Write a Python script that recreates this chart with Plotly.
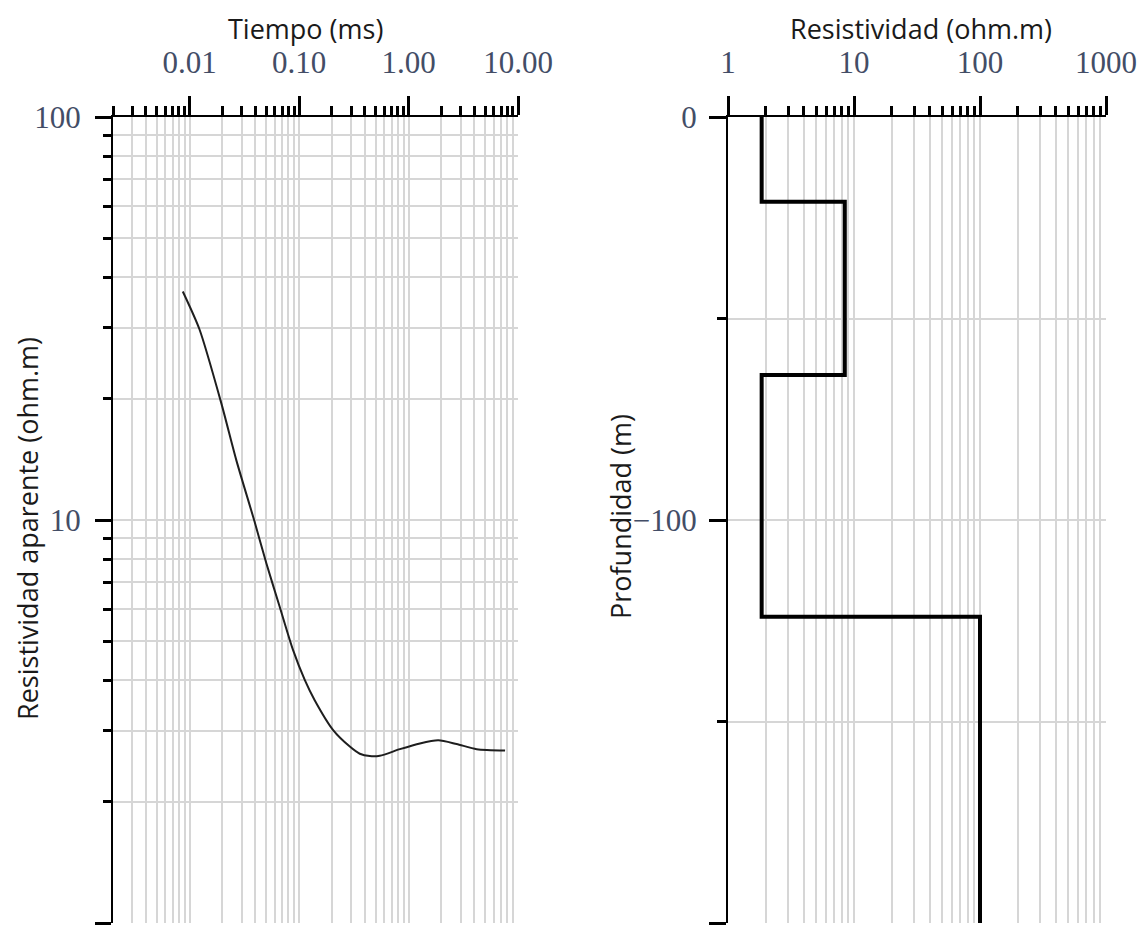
import math
import plotly.graph_objects as go

# ---- data: left panel (apparent resistivity curve) ----
tiempo_ms = [0.00868, 0.01234, 0.0195, 0.0267, 0.0393, 0.0503, 0.0666, 0.0881,
             0.1128, 0.139, 0.205, 0.291, 0.359, 0.443, 0.547, 0.834, 1.27, 1.87,
             2.75, 4.20, 7.62]
rho_aparente = [36.9, 29.7, 19.5, 14.1, 9.9, 7.81, 6.09, 4.76,
                4.01, 3.57, 3.01, 2.74, 2.63, 2.595, 2.60, 2.70, 2.79, 2.84,
                2.78, 2.70, 2.68]

# ---- data: right panel (layered model) ----
capa_resistividad = [1.85, 8.45, 1.85, 100]
capa_techo = [0, 21, 64, 124]
capa_base = [21, 64, 124, 200]

# ---- tick labels ----
x1_ticks = [0.01, 0.1, 1, 10]
x1_labels = ["0.01", "0.10", "1.00", "10.00"]
y1_ticks = [1, 10, 100]
y1_labels = ["1", "10", "100"]
x2_ticks = [1, 10, 100, 1000]
x2_labels = ["1", "10", "100", "1000"]
y2_ticks = [0, -100, -200]
y2_labels = ["0", "\u2212100", "\u2212200"]
y2_minor = [-50, -150]

# step line built from layers
step_x, step_y = [], []
for r, t, b in zip(capa_resistividad, capa_techo, capa_base):
    step_x += [r, r]
    step_y += [-t, -b]

def log_minor(e0, e1):
    return [k * 10 ** e for e in range(e0, e1) for k in range(2, 10)]

# page is 1145x937 with the default 8px body margin around the figure
PAD = 8
W, H = 1145 - 2 * PAD, 937 - 2 * PAD
def fx(px):
    return (px - PAD) / W
def fy(py):
    return 1 - (py - PAD) / H

GRID = "#d6d6d6"
TICKFONT = dict(family="Liberation Serif", size=31, color="#434d66")
TITLEFONT = dict(family="Open Sans", size=27, color="#1a1a1a")

fig = go.Figure()
fig.add_trace(go.Scatter(x=tiempo_ms, y=rho_aparente, mode="lines",
                         line=dict(color="#1e1e1e", width=2, shape="spline", smoothing=0.7),
                         xaxis="x", yaxis="y", showlegend=False))
fig.add_trace(go.Scatter(x=step_x, y=step_y, mode="lines",
                         line=dict(color="black", width=4),
                         xaxis="x2", yaxis="y2", showlegend=False))

common = dict(showline=True, linecolor="black", linewidth=2, ticks="outside",
              tickcolor="black", tickwidth=2.5, showgrid=True, gridcolor=GRID,
              gridwidth=1.5, zeroline=False, tickfont=TICKFONT, tickmode="array",
              automargin=False)

fig.update_layout(
    width=W, height=H, autosize=False,
    margin=dict(l=0, r=0, t=0, b=0),
    paper_bgcolor="white", plot_bgcolor="white",
    xaxis=dict(common, type="log", range=[math.log10(0.002), 1],
               domain=[fx(113), fx(518)], side="top", anchor="y",
               tickvals=x1_ticks, ticktext=x1_labels, ticklen=19, ticklabelstandoff=11,
               minor=dict(tickmode="array", tickvals=log_minor(-3, 1), ticks="outside",
                          ticklen=9, tickwidth=2.5, tickcolor="black",
                          showgrid=True, gridcolor=GRID, gridwidth=1.5)),
    yaxis=dict(common, type="log", range=[0, 2],
               domain=[fy(923), fy(117)], anchor="x",
               tickvals=y1_ticks, ticktext=y1_labels, ticklen=16, ticklabelstandoff=8,
               minor=dict(tickmode="array", tickvals=log_minor(0, 2), ticks="outside",
                          ticklen=8, tickwidth=2.5, tickcolor="black",
                          showgrid=True, gridcolor=GRID, gridwidth=1.5)),
    xaxis2=dict(common, type="log", range=[0, 3],
                domain=[fx(728), fx(1106)], side="top", anchor="y2",
                tickvals=x2_ticks, ticktext=x2_labels, ticklen=19, ticklabelstandoff=11,
                minor=dict(tickmode="array", tickvals=log_minor(0, 3), ticks="outside",
                           ticklen=9, tickwidth=2.5, tickcolor="black",
                           showgrid=True, gridcolor=GRID, gridwidth=1.5)),
    yaxis2=dict(common, type="linear", range=[-200, 0],
                domain=[fy(923), fy(117)], anchor="x2",
                tickvals=y2_ticks, ticktext=y2_labels, ticklen=17, ticklabelstandoff=6,
                minor=dict(tickmode="array", tickvals=y2_minor, ticks="outside",
                           ticklen=9, tickwidth=2.5, tickcolor="black",
                           showgrid=True, gridcolor=GRID, gridwidth=1.5)),
    annotations=[
        dict(text="Tiempo (ms)", x=fx(305), y=fy(9), xref="paper", yref="paper",
             showarrow=False, font=TITLEFONT, xanchor="center", yanchor="top",
             borderpad=0),
        dict(text="Resistividad (ohm.m)", x=fx(921), y=fy(9), xref="paper", yref="paper",
             showarrow=False, font=TITLEFONT, xanchor="center", yanchor="top",
             borderpad=0),
        dict(text="Resistividad aparente (ohm.m)", x=fx(27), y=fy(529), xref="paper",
             yref="paper", showarrow=False, font=TITLEFONT, textangle=-90,
             xanchor="center", yanchor="middle"),
        dict(text="Profundidad (m)", x=fx(620), y=fy(517), xref="paper", yref="paper",
             showarrow=False, font=TITLEFONT, textangle=-90,
             xanchor="center", yanchor="middle"),
    ],
)

fig.write_html("out.html")
